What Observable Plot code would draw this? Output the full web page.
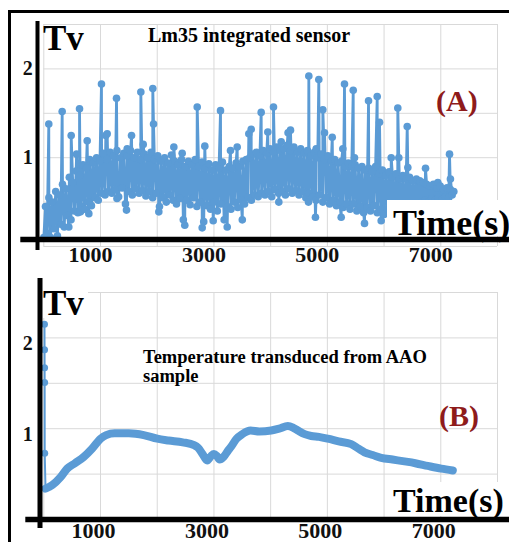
<!DOCTYPE html>
<html><head><meta charset="utf-8">
<script src="https://cdn.jsdelivr.net/npm/d3@7"></script>
<script src="https://cdn.jsdelivr.net/npm/@observablehq/plot@0.6"></script>
<style>
body{margin:0;background:#fff;}
#wrap{position:relative;width:509px;height:542px;overflow:hidden;background:#fff;}
#wrap svg{position:absolute;left:0;background:#fff;}
#border{position:absolute;left:8px;top:10px;width:600px;height:600px;border-left:3px solid #000;border-top:3px solid #000;pointer-events:none;}
</style></head><body><div id="wrap"></div>
<script>
// ---------- DATA ----------
// (A) Lm35 integrated sensor: logged every 30 s (values Tv)
const aStep = 30;
const aBase = [
0.10,0.45,0.15,0.55,0.10,0.50,0.20,0.62,0.12,0.58,
0.25,0.70,0.22,0.65,0.35,0.78,0.30,0.72,0.40,0.85,
0.38,0.80,0.45,0.92,0.42,0.88,0.50,0.98,0.46,0.94,
0.55,1.00,0.52,0.96,0.60,1.05,0.58,0.98,0.62,1.06,
0.60,1.02,0.64,1.08,0.56,1.00,0.66,1.05,0.48,1.02,
0.62,1.08,0.58,1.00,0.65,1.06,0.60,0.98,0.63,1.04,
0.57,1.00,0.62,1.06,0.55,0.98,0.60,1.02,0.45,0.96,
0.55,1.00,0.50,0.94,0.58,1.03,0.52,0.96,0.48,0.92,
0.54,0.98,0.30,0.90,0.52,0.96,0.47,0.92,0.55,0.98,
0.45,0.90,0.50,0.95,0.28,0.88,0.46,0.93,0.42,0.86,
0.50,0.92,0.40,0.88,0.48,0.95,0.30,0.86,0.45,0.90,
0.42,0.88,0.50,0.94,0.44,0.90,0.52,0.96,0.48,0.98,
0.55,1.00,0.52,1.04,0.58,1.06,0.56,1.02,0.60,1.08,
0.58,1.05,0.62,1.10,0.56,1.06,0.64,1.12,0.60,1.08,
0.62,1.10,0.58,1.14,0.65,1.08,0.60,1.12,0.63,1.06,
0.58,1.10,0.62,1.05,0.55,1.08,0.60,1.02,0.56,1.06,
0.52,1.00,0.58,1.04,0.50,0.98,0.55,1.02,0.48,0.96,
0.52,0.98,0.46,0.94,0.50,0.96,0.44,0.90,0.48,0.94,
0.42,0.90,0.48,0.92,0.40,0.88,0.45,0.90,0.38,0.86,
0.44,0.88,0.40,0.84,0.46,0.90,0.38,0.82,0.42,0.86,
0.36,0.80,0.42,0.84,0.34,0.78,0.40,0.82,0.38,0.76,
0.40,0.80,0.35,0.76,0.42,0.78,0.38,0.74,0.44,0.76,
0.48,0.74,0.50,0.72,0.52,0.70,0.50,0.68,0.54,0.70,
0.52,0.66,0.55,0.68,0.53,0.64,0.56,0.66,0.55,0.64,
0.58,0.62
];
// (A) isolated peaks (time s, Tv)
const aPeakT = [88,324,483,578,630,765,1017,1093,1118,1282,1470,1547,1711,1753,1922,1935,2293,2440,2705,2839,3116,3292,3410,3615,3657,3833,3950,4050,4186,4307,4350,4673,4803,4849,4920,4950,5086,5273,5302,5456,5479,5726,5879,5920,6126,6242,6260,6408,6419,6731,6948,7154,7170];
const aPeakV = [1.38,1.52,1.25,1.04,1.55,1.19,1.83,1.25,1.27,1.67,1.10,1.25,1.74,1.15,1.78,1.38,1.12,1.05,1.57,1.13,1.53,1.08,1.12,1.27,1.32,1.51,1.29,1.57,1.18,1.28,1.31,1.92,1.10,1.88,1.54,1.28,1.23,1.10,1.83,1.76,1.00,1.64,1.69,1.40,1.00,1.56,1.00,1.35,0.89,0.88,0.72,1.04,0.76];
// (A) isolated dips
const aDipT = [441,647,794,1290,1458,2028,2486,2793,2987,3234,3500,4144,4667,4790,5244,5537,5655,5949];
const aDipV = [0.22,0.39,0.37,0.54,0.41,0.39,0.24,0.21,0.29,0.22,0.30,0.50,0.50,0.33,0.33,0.42,0.26,0.29];

// (B) Temperature transduced from AAO sample
const bStartT = [12,13,14,15,16];
const bStartV = [2.15,1.87,1.67,1.51,0.73];
const bT = [30,150,300,412,550,705,850,1000,1100,1250,1500,1763,2000,2200,2450,2650,2720,2800,2880,2950,3000,3050,3100,3170,3250,3300,3400,3500,3645,3800,4010,4150,4303,4400,4480,4600,4715,4850,5008,5200,5421,5550,5655,5800,5949,6150,6360,6550,6771,7007,7212];
const bV = [0.34,0.38,0.47,0.56,0.62,0.69,0.78,0.89,0.93,0.95,0.95,0.93,0.89,0.87,0.85,0.82,0.79,0.72,0.65,0.70,0.72,0.70,0.66,0.69,0.76,0.80,0.89,0.94,0.98,0.97,0.98,1.00,1.03,1.01,0.98,0.94,0.92,0.91,0.89,0.86,0.83,0.78,0.74,0.71,0.68,0.66,0.64,0.62,0.59,0.56,0.54];

const xTickLabels = [1000,3000,5000,7000];
const yTickLabels = [1,2];
const xGrid = [0,1000,2000,3000,4000,5000,6000,7000,8000];
const yGrid = [0,0.5,1,1.5,2,2.5];

// ---------- BUILD ----------
const blue = "#5b9bd5";
const serif = "'Liberation Serif','Times New Roman',serif";
const seriesA = aBase.map((v,i)=>({t:i*aStep, v}))
  .concat(aPeakT.map((t,i)=>({t, v:aPeakV[i]})))
  .concat(aDipT.map((t,i)=>({t, v:aDipV[i]})))
  .sort((a,b)=>a.t-b.t);
const startB = bStartT.map((t,i)=>({t, v:bStartV[i]}));
const mainB = bT.map((t,i)=>({t, v:bV[i]}));

function frame(){
  return [
    Plot.gridX(xGrid,{stroke:"#d9d9d9",strokeOpacity:1,strokeWidth:1}),
    Plot.gridY(yGrid,{stroke:"#d9d9d9",strokeOpacity:1,strokeWidth:1})
  ];
}
function axes(o){
  return [
    Plot.ruleX([0],{dx:o.yAxDx,stroke:"#000",strokeWidth:o.yAxW,insetTop:o.yAxTop,insetBottom:o.yAxBot}),
    Plot.ruleY([0],{dy:o.xAxDy,stroke:"#000",strokeWidth:5.5,insetLeft:o.xAxLeft,insetRight:-12}),
    Plot.axisX(xTickLabels,{label:null,tickSize:0,tickPadding:o.xPad,fontSize:22,fontWeight:"bold",fontFamily:serif,fill:"#111",dx:o.xDx,tickFormat:d=>String(d)}),
    Plot.axisY(yTickLabels,{label:null,tickSize:0,tickPadding:11,fontSize:20,fontWeight:"bold",fontFamily:serif,fill:"#111",dy:o.yDy,tickFormat:d=>String(d)})
  ];
}
function txt(svg,str,x,y,size,color){
  d3.select(svg).append("text").attr("x",x).attr("y",y)
    .attr("text-anchor","start")
    .attr("font-family",serif).attr("font-weight","bold").attr("font-size",size)
    .attr("fill",color||"#000").text(str);
}
function box(svg,x,y,w,h){
  d3.select(svg).append("rect").attr("x",x).attr("y",y).attr("width",w).attr("height",h).attr("fill","#fff");
}

const common = {width:509, marginLeft:43.3, marginRight:12,
  x:{domain:[0,8000],axis:null}, y:{domain:[0,2.5],axis:null}};

const plotA = Plot.plot({...common, height:270, marginTop:24, marginBottom:24,
  marks:[
    ...frame(),
    Plot.line(seriesA,{x:"t",y:"v",stroke:blue,strokeWidth:2.8}),
    Plot.dot(seriesA,{x:"t",y:"v",fill:blue,r:3.8}),
    ...axes({yAxDx:-6.3,yAxW:4,yAxTop:-3,yAxBot:-4,xAxDy:-7,xAxLeft:-23,xPad:0,xDx:-10,yDy:0})
  ]});
box(plotA,387,200,122,36);
txt(plotA,"Time(s)",393,235,36);
txt(plotA,"Tv",43,50,35);
txt(plotA,"Lm35 integrated sensor",148,42,20);
txt(plotA,"(A)",436,111,30,"#8e1b1b");
plotA.style.top="0px";

const plotB = Plot.plot({...common, height:272, marginTop:22, marginBottom:23,
  marks:[
    ...frame(),
    Plot.line(startB.concat([mainB[0]]),{x:"t",y:"v",stroke:blue,strokeWidth:2}),
    Plot.dot(startB,{x:"t",y:"v",fill:blue,r:3.5}),
    Plot.line(mainB,{x:"t",y:"v",stroke:blue,strokeWidth:8,curve:"monotone-x",strokeLinecap:"round"}),
    ...axes({yAxDx:-3.8,yAxW:5,yAxTop:-14,yAxBot:-9,xAxDy:0,xAxLeft:-18,xPad:3,xDx:-7,yDy:6})
  ]});
box(plotB,387,212,122,34);
txt(plotB,"Time(s)",393,242,34);
box(plotB,43,22,45,26);
txt(plotB,"Tv",43,45,35);
txt(plotB,"Temperature transduced from AAO",143,93,18.5);
txt(plotB,"sample",143,112,18.5);
txt(plotB,"(B)",439,156,30,"#8e1b1b");
plotB.style.top="270px";

const wrap = document.getElementById("wrap");
wrap.appendChild(plotA);
wrap.appendChild(plotB);
const b = document.createElement("div"); b.id="border"; wrap.appendChild(b);
</script></body></html>
